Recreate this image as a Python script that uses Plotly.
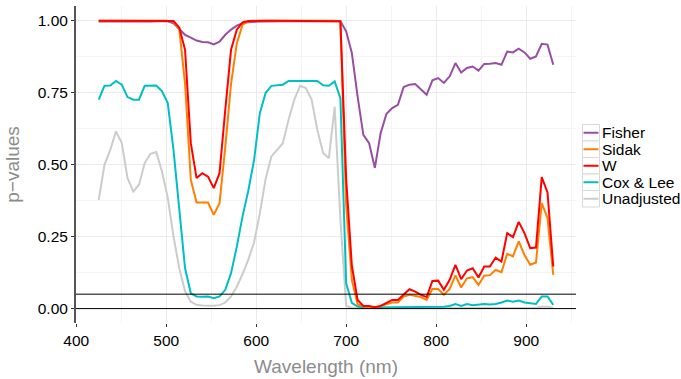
import plotly.graph_objects as go

wavelength = [425.0, 431.4, 437.8, 444.2, 450.6, 457.0, 463.4, 469.7, 476.1, 482.5,
              488.9, 495.3, 501.7, 508.1, 514.5, 520.9, 527.3, 533.7, 540.1, 546.4,
              552.8, 559.2, 565.6, 572.0, 578.4, 584.8, 591.2, 597.6, 604.0, 610.4,
              616.8, 623.2, 629.5, 635.9, 642.3, 648.7, 655.1, 661.5, 667.9, 674.3,
              680.7, 687.1, 693.5, 699.9, 706.2, 712.6, 719.0, 725.4, 731.8, 738.2,
              744.6, 751.0, 757.4, 763.8, 770.2, 776.6, 782.9, 789.3, 795.7, 802.1,
              808.5, 814.9, 821.3, 827.7, 834.1, 840.5, 846.9, 853.3, 859.6, 866.0,
              872.4, 878.8, 885.2, 891.6, 898.0, 904.4, 910.8, 917.2, 923.6, 930.0]

fisher = [0.996, 0.996, 0.996, 0.995, 0.994, 0.995, 0.995, 0.996, 0.996, 0.996,
          0.997, 0.997, 0.997, 0.990, 0.970, 0.950, 0.940, 0.930, 0.925, 0.924,
          0.917, 0.926, 0.950, 0.968, 0.982, 0.990, 0.994, 0.996, 0.996, 0.996,
          0.997, 0.997, 0.997, 0.997, 0.997, 0.997, 0.997, 0.997, 0.997, 0.997,
          0.997, 0.997, 0.997, 0.962, 0.887, 0.736, 0.603, 0.574, 0.488, 0.609,
          0.675, 0.696, 0.707, 0.769, 0.777, 0.779, 0.759, 0.742, 0.792, 0.800,
          0.783, 0.806, 0.852, 0.819, 0.835, 0.840, 0.826, 0.849, 0.850, 0.852,
          0.846, 0.892, 0.889, 0.902, 0.889, 0.867, 0.875, 0.919, 0.916, 0.846]

sidak = [0.999, 0.999, 0.999, 0.999, 0.999, 0.999, 0.999, 0.999, 0.999, 0.999,
         0.999, 0.999, 0.999, 0.995, 0.970, 0.780, 0.447, 0.368, 0.368, 0.368,
         0.325, 0.366, 0.560, 0.780, 0.920, 0.985, 0.997, 0.999, 0.999, 0.999,
         0.999, 0.999, 0.999, 0.999, 0.999, 0.999, 0.999, 0.999, 0.999, 0.999,
         0.999, 0.999, 0.995, 0.360, 0.100, 0.015, 0.007, 0.007, 0.005, 0.009,
         0.016, 0.021, 0.021, 0.042, 0.048, 0.044, 0.040, 0.030, 0.068, 0.068,
         0.048, 0.068, 0.115, 0.073, 0.105, 0.109, 0.082, 0.114, 0.116, 0.134,
         0.126, 0.190, 0.181, 0.233, 0.186, 0.152, 0.160, 0.366, 0.314, 0.117]

w = [0.999, 0.999, 0.999, 0.999, 0.999, 0.999, 0.999, 0.999, 0.999, 0.999,
     0.999, 0.999, 0.999, 0.998, 0.975, 0.898, 0.574, 0.453, 0.470, 0.458,
     0.418, 0.470, 0.690, 0.898, 0.968, 0.993, 0.998, 0.999, 0.999, 0.999,
     0.999, 0.999, 0.999, 0.999, 0.999, 0.999, 0.999, 0.999, 0.999, 0.999,
     0.999, 0.999, 0.997, 0.450, 0.150, 0.030, 0.009, 0.009, 0.005, 0.009,
     0.019, 0.030, 0.030, 0.048, 0.067, 0.059, 0.048, 0.040, 0.096, 0.097,
     0.065, 0.100, 0.152, 0.102, 0.132, 0.140, 0.108, 0.146, 0.146, 0.177,
     0.163, 0.262, 0.248, 0.301, 0.262, 0.210, 0.212, 0.456, 0.403, 0.146]

cox_lee = [0.725, 0.773, 0.774, 0.790, 0.777, 0.734, 0.725, 0.725, 0.773, 0.774,
           0.774, 0.754, 0.713, 0.550, 0.340, 0.140, 0.053, 0.042, 0.041, 0.042,
           0.036, 0.042, 0.065, 0.123, 0.215, 0.320, 0.410, 0.516, 0.678, 0.748,
           0.773, 0.774, 0.777, 0.790, 0.790, 0.790, 0.790, 0.790, 0.790, 0.775,
           0.773, 0.788, 0.730, 0.088, 0.020, 0.007, 0.004, 0.004, 0.004, 0.004,
           0.004, 0.004, 0.004, 0.004, 0.004, 0.004, 0.005, 0.005, 0.005, 0.005,
           0.006, 0.009, 0.016, 0.009, 0.016, 0.012, 0.014, 0.016, 0.014, 0.016,
           0.021, 0.028, 0.024, 0.028, 0.021, 0.019, 0.016, 0.042, 0.042, 0.013]

unadjusted = [0.377, 0.499, 0.551, 0.615, 0.574, 0.453, 0.406, 0.430, 0.505, 0.537,
              0.543, 0.476, 0.385, 0.250, 0.140, 0.060, 0.024, 0.013, 0.011, 0.010,
              0.010, 0.012, 0.021, 0.042, 0.076, 0.120, 0.170, 0.230, 0.330, 0.450,
              0.528, 0.551, 0.574, 0.655, 0.725, 0.773, 0.765, 0.725, 0.620, 0.540,
              0.522, 0.700, 0.310, 0.010, 0.002, 0.001, 0.001, 0.001, 0.001, 0.001,
              0.001, 0.001, 0.001, 0.001, 0.001, 0.001, 0.001, 0.001, 0.001, 0.001,
              0.001, 0.001, 0.001, 0.001, 0.001, 0.001, 0.001, 0.001, 0.001, 0.001,
              0.002, 0.003, 0.003, 0.003, 0.002, 0.002, 0.002, 0.006, 0.006, 0.002]

series_names = ["Fisher", "Sidak", "W", "Cox & Lee", "Unadjusted"]
series_values = [fisher, sidak, w, cox_lee, unadjusted]
series_colors = ["#984EA3", "#FF7F00", "#FF0000", "#00BFC4", "#CCCCCC"]
draw_order = [4, 3, 0, 1, 2]

thresholds = [0, 0.05]
x_ticks = [400, 500, 600, 700, 800, 900]
x_minor = [450, 550, 650, 750, 850, 950]
y_ticks = [0, 0.25, 0.5, 0.75, 1.0]
y_tick_text = ["0.00", "0.25", "0.50", "0.75", "1.00"]
y_minor = [0.125, 0.375, 0.625, 0.875]

FONT = "Liberation Sans, Arial, Helvetica, sans-serif"

fig = go.Figure()
for i in draw_order:
    fig.add_trace(go.Scatter(x=wavelength, y=series_values[i], mode="lines",
                             name=series_names[i],
                             line=dict(color=series_colors[i], width=2),
                             showlegend=False))

shapes = []
for t in thresholds:
    shapes.append(dict(type="line", xref="paper", x0=0, x1=1, yref="y", y0=t, y1=t,
                       line=dict(color="black", width=1), layer="above"))

# custom legend (pixel layout of the plotting area: left 76, width 500, top 6, height 317)
L, W_, T, H_ = 76, 500, 6, 317
def px_x(p):
    return (p - L) / W_
def px_y(p):
    return (T + H_ - p) / H_

annotations = []
key_h = 16.5
top0 = 124.5
for i, name in enumerate(series_names):
    y_top = top0 + key_h * i
    y_bot = y_top + key_h
    cy = (y_top + y_bot) / 2
    shapes.append(dict(type="rect", xref="paper", yref="paper",
                       x0=px_x(582.5), x1=px_x(599.5), y0=px_y(y_bot), y1=px_y(y_top),
                       line=dict(color="#D9D9D9", width=1), fillcolor="white", layer="above"))
    shapes.append(dict(type="line", xref="paper", yref="paper",
                       x0=px_x(583.5), x1=px_x(598.5), y0=px_y(cy), y1=px_y(cy),
                       line=dict(color=series_colors[i], width=2), layer="above"))
    annotations.append(dict(xref="paper", yref="paper", x=px_x(599.5), y=px_y(cy),
                            xanchor="left", yanchor="middle", showarrow=False,
                            text=name, font=dict(family=FONT, size=15.5, color="black")))

fig.update_layout(
    width=681, height=379,
    margin=dict(l=L, r=681 - L - W_, t=T, b=379 - T - H_),
    paper_bgcolor="white", plot_bgcolor="white",
    font=dict(family=FONT, size=15.5, color="black"),
    shapes=shapes, annotations=annotations, showlegend=False,
    xaxis=dict(range=[399.75, 955.25], tickvals=x_ticks, showgrid=True,
               gridcolor="#EBEBEB", gridwidth=1,
               minor=dict(tickvals=x_minor, showgrid=True, gridcolor="#F4F4F4", gridwidth=0.6),
               ticks="outside", ticklen=3, tickwidth=1, tickcolor="#333333",
               showline=False, zeroline=False,
               tickfont=dict(family=FONT, size=15.5, color="black"),
               title=dict(text="Wavelength (nm)", font=dict(family=FONT, size=19, color="#8C8C8C"),
                          standoff=12)),
    yaxis=dict(range=[-0.05, 1.05], tickvals=y_ticks, ticktext=y_tick_text, showgrid=True,
               gridcolor="#EBEBEB", gridwidth=1,
               minor=dict(tickvals=y_minor, showgrid=True, gridcolor="#F4F4F4", gridwidth=0.6),
               ticks="outside", ticklen=3, tickwidth=1, tickcolor="#333333",
               showline=True, linecolor="#555555", linewidth=2, zeroline=False,
               tickfont=dict(family=FONT, size=15.5, color="black"),
               title=dict(text="p\u2212values", font=dict(family=FONT, size=19, color="#8C8C8C"),
                          standoff=13)),
)

fig.write_html("out.html")
